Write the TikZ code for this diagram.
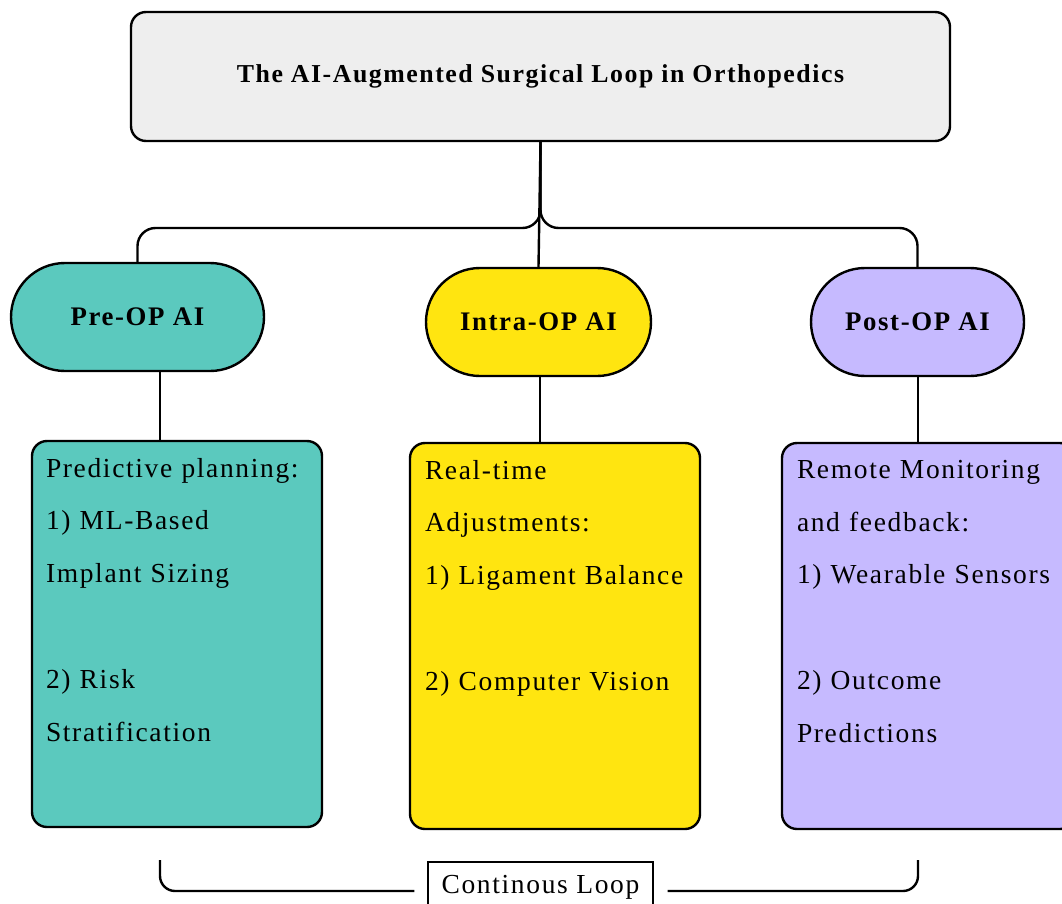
\documentclass[tikz,border=0pt]{standalone}
\usepackage{fontspec}
\setmainfont{Liberation Serif}[LetterSpace=6]
\usetikzlibrary{positioning}

\definecolor{headgray}{RGB}{238,238,238}
\definecolor{preteal}{RGB}{91,201,190}
\definecolor{intrayellow}{RGB}{255,229,16}
\definecolor{postlilac}{RGB}{198,186,255}

\newcommand{\boxtext}[1]{\parbox[c][352pt][t]{\linewidth}{\raggedright #1}}

\begin{document}
\begin{tikzpicture}[x=1pt,y=-1pt,
    every node/.style={font=\fontsize{27.5pt}{52.8pt}\selectfont},
    link/.style={line width=2.4pt},
    headbox/.style={draw, line width=2.4pt, rounded corners=15pt, fill=headgray,
        minimum width=819pt, minimum height=129pt, font=\fontsize{25.8pt}{30pt}\selectfont\bfseries},
    pill/.style={draw, line width=2.4pt, rounded corners=54pt,
        minimum height=108pt, font=\fontsize{26.8pt}{30pt}\selectfont\bfseries},
    detail/.style={draw, line width=2.4pt, rounded corners=15pt,
        inner xsep=14pt, inner ysep=17pt, minimum height=386pt},
    loopbox/.style={draw, line width=1.2pt, minimum width=225pt, minimum height=50pt}]
\useasboundingbox (0,0) rectangle (1062,904);

% title
\node[headbox] (title) at (540.5,76.5) {The AI-Augmented Surgical Loop in Orthopedics};

% three phases
\node[pill, fill=preteal, minimum width=253pt] (pre) at (137.5,317) {Pre-OP AI};
\node[pill, fill=intrayellow, minimum width=225pt] (intra) at (538.5,322) {Intra-OP AI};
\node[pill, fill=postlilac, minimum width=213pt] (post) at (917.5,322) {Post-OP AI};

% details
\node[detail, fill=preteal, text width=262pt] (prebox) at (177,634) {\boxtext{%
    Predictive planning:\\1) ML-Based\\Implant Sizing\\~\\2) Risk\\Stratification}};
\node[detail, fill=intrayellow, text width=260pt, inner xsep=15pt] (intrabox) at (555,636) {\boxtext{%
    Real-time\\Adjustments:\\1) Ligament Balance\\~\\2) Computer Vision}};
\node[detail, fill=postlilac, text width=263pt, inner xsep=15pt] (postbox) at (928.5,636) {\boxtext{%
    Remote Monitoring\\and feedback:\\1) Wearable Sensors\\~\\2) Outcome\\Predictions}};

\node[loopbox] (loop) at (540.5,887) {Continous Loop};

% connectors
\coordinate (hub) at (title.south |- 0,228);
\draw[link, rounded corners=18pt] (pre.north) |- (hub) -- (title.south);
\draw[link, rounded corners=18pt] (post.north) |- (hub) -- (title.south);
\draw[link] (title.south) -- (intra.north);

\draw[link] (pre.south -| 160,0) -- (prebox.north -| 160,0);
\draw[link] (intra.south -| 540,0) -- (intrabox.north -| 540,0);
\draw[link] (post.south -| 918,0) -- (postbox.north -| 918,0);

\coordinate (loopL) at (160,860);
\coordinate (loopR) at (918,860);
\draw[link, rounded corners=15pt, shorten >=13pt] (loopL) |- (loop.west |- 0,891);
\draw[link, rounded corners=15pt, shorten >=14pt] (loopR) |- (loop.east |- 0,891);
\end{tikzpicture}
\end{document}
